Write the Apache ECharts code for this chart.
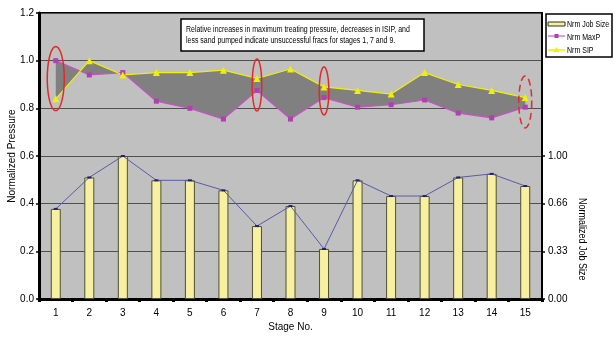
<!DOCTYPE html>
<html>
<head>
<meta charset="utf-8">
<script src="https://cdn.jsdelivr.net/npm/echarts@6/dist/echarts.min.js"></script>
<style>
html,body{margin:0;padding:0;background:#fff;}
#chart{width:616px;height:339px;}
</style>
</head>
<body>
<div id="chart"></div>
<script>
// ---- data ----
const stages = ['1','2','3','4','5','6','7','8','9','10','11','12','13','14','15'];
const jobSize = [0.63,0.85,1.00,0.83,0.83,0.76,0.51,0.65,0.35,0.83,0.72,0.72,0.85,0.875,0.79];
const maxP = [1.00,0.94,0.95,0.83,0.80,0.755,0.875,0.755,0.845,0.805,0.815,0.835,0.78,0.76,0.805];
const sip = [0.84,1.00,0.94,0.95,0.95,0.96,0.925,0.965,0.89,0.875,0.86,0.95,0.90,0.875,0.845];
const pressureTicks = [0,0.2,0.4,0.6,0.8,1.0,1.2];
const jobTicks = [0,1/3,2/3,1];
const jobTickLabels = ['0.00','0.33','0.66','1.00'];
const flaggedStages = ['1','7','9','15'];
const seriesNames = ['Nrm Job Size','Nrm MaxP','Nrm SIP'];
const noteLines = ['Relative increases in maximum treating pressure, decreases in ISIP, and',
                   'less sand pumped indicate unsuccessful fracs for stages 1, 7 and 9.'];

// ---- styles / annotation geometry ----
const FONT = "'Liberation Sans','Arimo',sans-serif";
const C = {bar:'#f7f0a0', barBorder:'#505030', jobLine:'#5a5aa8', maxP:'#c850c8', maxPMark:'#b040b0', sip:'#f0f000'};
const ellipseStyle = {
  '1':  {c:0.925, rx:8.5, ry:32, dashed:false},
  '7':  {c:0.898, rx:4.8, ry:26, dashed:false},
  '9':  {c:0.873, rx:4.8, ry:24, dashed:false},
  '15': {c:0.827, rx:6.5, ry:26, dashed:true}
};

const chart = echarts.init(document.getElementById('chart'), null, {renderer:'canvas'});

function ellipsePoints(cx, cy, rx, ry){
  const pts=[];
  for(let k=0;k<72;k++){const a=k/72*Math.PI*2;pts.push([cx+rx*Math.cos(a), cy+ry*Math.sin(a)]);}
  return pts;
}
function narrowText(x, y, text, size, sx, extra){
  return Object.assign({type:'text', x:x, y:y, scaleX:sx, scaleY:1,
    style:{text:text, font:size+'px '+FONT, fill:'#000', verticalAlign:'middle'}}, extra||{});
}

const legendX = 546, legendY = 14;
const option = {
  animation:false,
  backgroundColor:'#fff',
  textStyle:{fontFamily:FONT},
  grid:{left:39,right:74,top:13,bottom:40,containLabel:false,outerBoundsMode:'none',
        show:true,backgroundColor:'#c0c0c0',borderColor:'#000',borderWidth:2},
  xAxis:{
    type:'category', data:stages, boundaryGap:true,
    axisLine:{lineStyle:{color:'#000',width:3}},
    axisTick:{show:true,length:3,lineStyle:{color:'#000',width:3}},
    axisLabel:{color:'#000',fontSize:10,fontFamily:FONT,margin:9},
    name:'Stage No.', nameLocation:'middle', nameGap:23, nameMoveOverlap:false,
    nameTextStyle:{color:'#000',fontSize:10,fontFamily:FONT}
  },
  yAxis:[
    {
      type:'value', min:0, max:1.2, interval:0.2,
      axisLine:{show:true,lineStyle:{color:'#000',width:3}},
      axisTick:{show:true,length:3,lineStyle:{color:'#000',width:1.5}},
      axisLabel:{color:'#000',fontSize:10,fontFamily:FONT,margin:5,formatter:v=>v.toFixed(1)},
      splitLine:{show:true,lineStyle:{color:'#505050',width:1}},
      name:'Normalized Pressure', nameLocation:'middle', nameGap:22, nameMoveOverlap:false,
      nameTextStyle:{color:'#000',fontSize:10,fontFamily:FONT}
    },
    {
      type:'value', min:0, max:2, position:'right',
      axisLine:{show:true,lineStyle:{color:'#000',width:2}},
      axisTick:{show:true,length:3,customValues:jobTicks,lineStyle:{color:'#000',width:1.5}},
      axisLabel:{color:'#000',fontSize:10,fontFamily:FONT,margin:6,customValues:jobTicks,
        formatter:v=>{const i=jobTicks.findIndex(t=>Math.abs(t-v)<1e-6);return i>=0?jobTickLabels[i]:'';}},
      splitLine:{show:false}
    }
  ],
  graphic:[
    // annotation box
    {type:'rect', shape:{x:181,y:19,width:243,height:32}, style:{fill:'#fff',stroke:'#000',lineWidth:1.5}, z:10},
    narrowText(186, 30, noteLines[0], 8.5, 0.82, {z:11}),
    narrowText(186, 41, noteLines[1], 8.5, 0.82, {z:11}),
    // right axis title
    {type:'text', x:587, y:198, rotation:-Math.PI/2, scaleX:0.9,
      style:{text:'Normalized Job Size', font:'10px '+FONT, fill:'#000'}, z:10},
    // legend
    {type:'rect', shape:{x:legendX,y:legendY,width:66,height:43}, style:{fill:'#fff',stroke:'#000',lineWidth:1.5}, z:10},
    {type:'rect', shape:{x:legendX+2,y:legendY+8,width:17,height:4}, style:{fill:C.bar,stroke:'#303020',lineWidth:1}, z:11},
    {type:'line', shape:{x1:legendX+2,y1:legendY+22,x2:legendX+19,y2:legendY+22}, style:{stroke:'#d080d0',lineWidth:1.5}, z:11},
    {type:'rect', shape:{x:legendX+8.5,y:legendY+20,width:4,height:4}, style:{fill:C.maxPMark}, z:12},
    {type:'line', shape:{x1:legendX+2,y1:legendY+36,x2:legendX+19,y2:legendY+36}, style:{stroke:C.sip,lineWidth:1.5}, z:11},
    {type:'polygon', shape:{points:[[legendX+10.5,legendY+33],[legendX+13.5,legendY+38],[legendX+7.5,legendY+38]]}, style:{fill:C.sip}, z:12},
    narrowText(legendX+21, legendY+10.5, seriesNames[0], 9, 0.78, {z:12}),
    narrowText(legendX+21, legendY+23.5, seriesNames[1], 9, 0.78, {z:12}),
    narrowText(legendX+21, legendY+37, seriesNames[2], 9, 0.78, {z:12})
  ],
  series:[
    {
      name:seriesNames[0], type:'bar', yAxisIndex:1, data:jobSize, barWidth:10,
      itemStyle:{color:C.bar, borderColor:C.barBorder, borderWidth:1}, z:2
    },
    {
      name:'jobLine', type:'line', yAxisIndex:1, data:jobSize,
      lineStyle:{color:C.jobLine,width:1}, itemStyle:{color:'#202070'},
      symbol:'rect', symbolSize:[4,2], showSymbol:true, z:3
    },
    {
      name:'band', type:'custom', yAxisIndex:0, data:[[0,0]], z:3, silent:true,
      renderItem:(params, api)=>{
        const pts=[];
        for(let i=0;i<stages.length;i++) pts.push(api.coord([i,maxP[i]]));
        for(let i=stages.length-1;i>=0;i--) pts.push(api.coord([i,sip[i]]));
        return {type:'polygon', shape:{points:pts}, style:{fill:'#808080', stroke:null}};
      }
    },
    {
      name:seriesNames[1], type:'line', yAxisIndex:0, data:maxP,
      lineStyle:{color:C.maxP,width:1.2}, itemStyle:{color:C.maxPMark},
      symbol:'rect', symbolSize:5, z:5
    },
    {
      name:seriesNames[2], type:'line', yAxisIndex:0, data:sip,
      lineStyle:{color:C.sip,width:1.2}, itemStyle:{color:C.sip},
      symbol:'triangle', symbolSize:7, z:5
    },
    {
      name:'flags', type:'custom', yAxisIndex:0, z:6, silent:true, clip:false,
      data:flaggedStages.map(s=>[stages.indexOf(s), ellipseStyle[s].c]),
      renderItem:(params, api)=>{
        const s = flaggedStages[params.dataIndex];
        const st = ellipseStyle[s];
        const c = api.coord([api.value(0), api.value(1)]);
        return {type:'polygon', shape:{points:ellipsePoints(c[0],c[1],st.rx,st.ry)},
          style:{fill:null, stroke:'#e02a2a', lineWidth:1.5, lineDash: st.dashed?[7,4]:null}};
      }
    }
  ]
};
chart.setOption(option);
</script>
</body>
</html>
